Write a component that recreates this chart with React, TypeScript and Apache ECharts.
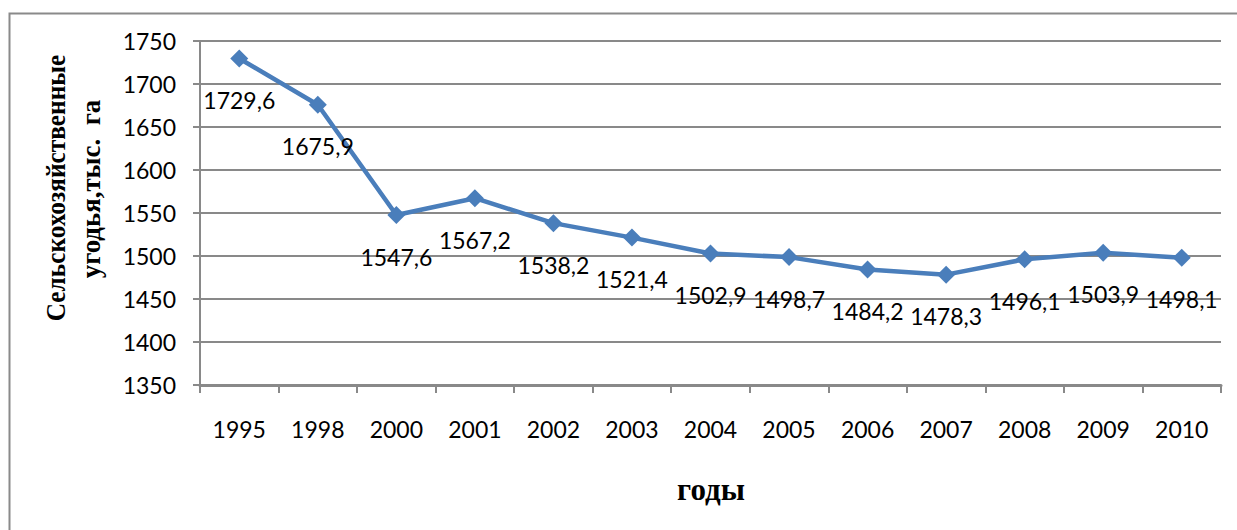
import React, { useEffect, useRef } from "react";
import * as echarts from "echarts";

const years: string[] = ["1995", "1998", "2000", "2001", "2002", "2003", "2004", "2005", "2006", "2007", "2008", "2009", "2010"];
const landValues: number[] = [1729.6, 1675.9, 1547.6, 1567.2, 1538.2, 1521.4, 1502.9, 1498.7, 1484.2, 1478.3, 1496.1, 1503.9, 1498.1];
const yMin = 1350;
const yMax = 1750;
const yStep = 50;
const yTitleLine1 = "Сельскохозяйственные";
const yTitleLine2 = "угодья,тыс.  га";
const xTitle = "годы";

export default function App() {
  const ref = useRef<HTMLDivElement>(null);
  useEffect(() => {
    if (!ref.current) return;
    const chart = echarts.init(ref.current, undefined, { renderer: "svg" });
    const grey = "#898989";
    const labelFont = "Lato";
    chart.setOption({
      animation: false,
      backgroundColor: "#ffffff",
      grid: { left: 200, right: 16, top: 41, bottom: 145 },
      xAxis: {
        type: "category",
        data: years,
        boundaryGap: true,
        axisLine: { show: true, lineStyle: { color: grey, width: 3 } },
        axisTick: { show: true, alignWithLabel: false, length: 8, lineStyle: { color: grey, width: 2 } },
        axisLabel: { color: "#000", fontFamily: labelFont, fontSize: 23, margin: 32 },
        splitLine: { show: false },
      },
      yAxis: {
        type: "value",
        min: yMin,
        max: yMax,
        interval: yStep,
        axisLine: { show: true, lineStyle: { color: grey, width: 2 } },
        axisTick: { show: true, length: 7, lineStyle: { color: grey, width: 2 } },
        axisLabel: {
          color: "#000",
          fontFamily: labelFont,
          fontSize: 23,
          margin: 24,
          formatter: (v: number) => String(v),
        },
        splitLine: { show: true, lineStyle: { color: grey, width: 2 } },
      },
      series: [
        {
          type: "line",
          data: landValues,
          symbol: "diamond",
          symbolSize: 18,
          lineStyle: { color: "#4A7EBB", width: 4.5 },
          itemStyle: { color: "#4A7EBB" },
          label: {
            show: true,
            position: "bottom",
            distance: 21,
            color: "#000",
            fontFamily: labelFont,
            fontSize: 23,
            formatter: (p: any) => String(p.value).replace(".", ","),
          },
        },
      ],
      graphic: [
        {
          type: "rect",
          shape: { x: 9.5, y: 13.5, width: 1300, height: 600 },
          style: { fill: "none", stroke: "#8a8a8a", lineWidth: 2 },
          silent: true,
          z: -1,
        },
        {
          type: "text",
          x: 56,
          y: 188,
          rotation: Math.PI / 2,
          scaleX: 0.905,
          style: {
            text: yTitleLine1,
            font: "bold 28px 'Liberation Serif'",
            fill: "#000",
            align: "center",
            verticalAlign: "middle",
          },
        },
        {
          type: "text",
          x: 91,
          y: 189,
          rotation: Math.PI / 2,
          scaleX: 0.96,
          style: {
            text: yTitleLine2,
            font: "bold 28px 'Liberation Serif'",
            fill: "#000",
            align: "center",
            verticalAlign: "middle",
          },
        },
        {
          type: "text",
          x: 711,
          y: 489,
          style: {
            text: xTitle,
            font: "bold 31px 'Liberation Serif'",
            fill: "#000",
            align: "center",
            verticalAlign: "middle",
          },
        },
      ],
    });
    return () => chart.dispose();
  }, []);
  return (
    <div
      ref={ref}
      style={{ position: "fixed", left: 0, top: 0, width: 1237, height: 530, background: "#fff" }}
    />
  );
}
